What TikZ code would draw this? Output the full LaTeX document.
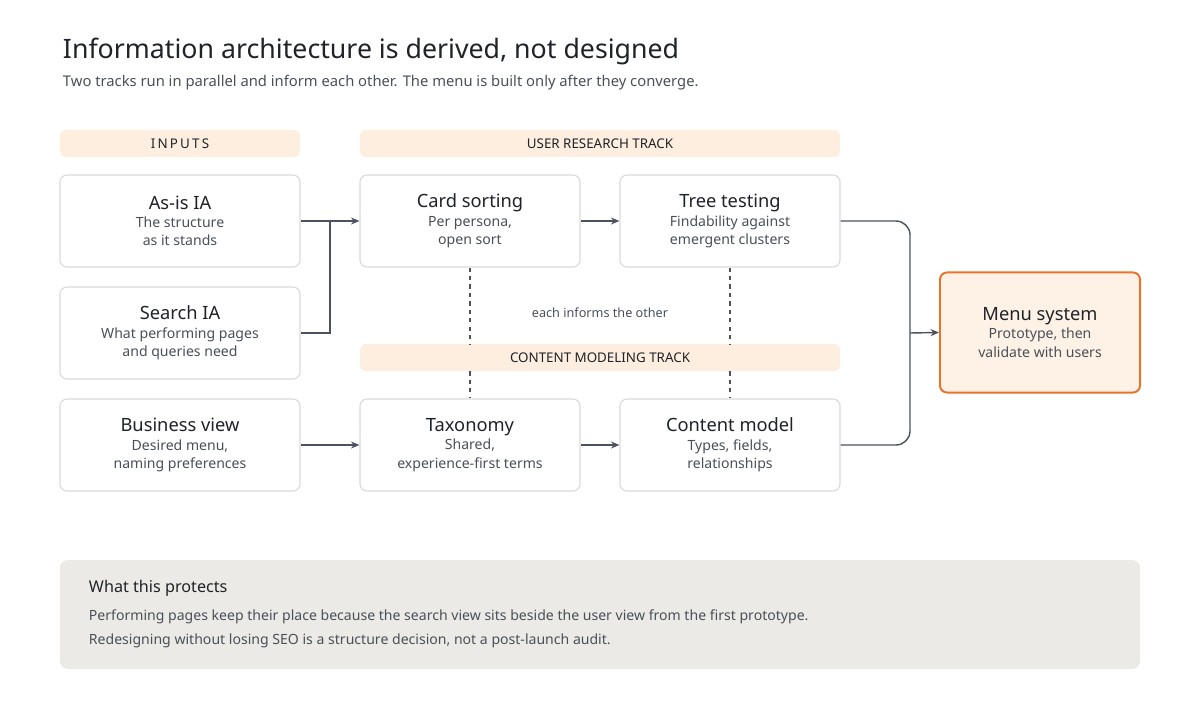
\documentclass[tikz,border=0pt]{standalone}
\usepackage{fontspec}
\setmainfont{Noto Sans}
\usetikzlibrary{positioning, arrows.meta}
\definecolor{ink}{HTML}{1F2328}
\definecolor{mute}{HTML}{4A5058}
\definecolor{edge}{HTML}{DADADA}
\definecolor{peach}{HTML}{FDEEDF}
\definecolor{orng}{HTML}{E8732A}
\definecolor{menufill}{HTML}{FEF1E5}
\definecolor{panel}{HTML}{ECEAE6}
\definecolor{wire}{HTML}{4A5260}

\begin{document}
\begin{tikzpicture}
    [
        x=0.025cm, y=-0.025cm,
        box/.style={draw=edge, line width=0.8pt, fill=white, rounded corners=5pt, minimum width=5.5cm, minimum height=2.3cm, align=center, text=mute, font=\fontsize{10}{13}\selectfont},
        wide_box/.style={box, minimum width=6cm},
        band/.style={fill=peach, rounded corners=4pt, minimum height=0.68cm, font=\fontsize{9.5}{11}\selectfont\bfseries, text=ink},
        flow/.style={-{Stealth[length=6pt, width=5pt]}, line width=1pt, color=wire},
        link/.style={line width=1pt, color=wire, dashed, dash pattern=on 3pt off 3pt},
    ]
        \useasboundingbox (0,0) rectangle (1200,720);
        % heading
        \node[anchor=west, font=\fontsize{19}{22}\selectfont\bfseries, text=ink] (title) at (58,51) {Information architecture is derived, not designed};
        \node[anchor=west, font=\fontsize{10.5}{13}\selectfont, text=mute] (sub) at (58,83) {Two tracks run in parallel and inform each other. The menu is built only after they converge.};
        % track labels
        \node[band, minimum width=6cm] (inputs) at (180,143.5) {I\,N\,P\,U\,T\,S};
        \node[band, minimum width=12cm] (research) at (600,143.5) {USER RESEARCH TRACK};
        \node[band, minimum width=12cm] (modeling) at (600,357.5) {CONTENT MODELING TRACK};
        % boxes
        \node[wide_box] (asis) at (180,221) {{\fontsize{13}{16}\selectfont\bfseries\color{ink}As-is IA}\\The structure\\as it stands};
        \node[wide_box] (search) at (180,333) {{\fontsize{13}{16}\selectfont\bfseries\color{ink}Search IA}\\What performing pages\\and queries need};
        \node[wide_box] (business) at (180,445) {{\fontsize{13}{16}\selectfont\bfseries\color{ink}Business view}\\Desired menu,\\naming preferences};
        \node[box] (cards) at (470,221) {{\fontsize{13}{16}\selectfont\bfseries\color{ink}Card sorting}\\Per persona,\\open sort};
        \node[box] (tree) at (730,221) {{\fontsize{13}{16}\selectfont\bfseries\color{ink}Tree testing}\\Findability against\\emergent clusters};
        \node[box] (taxonomy) at (470,445) {{\fontsize{13}{16}\selectfont\bfseries\color{ink}Taxonomy}\\Shared,\\experience-first terms};
        \node[box] (model) at (730,445) {{\fontsize{13}{16}\selectfont\bfseries\color{ink}Content model}\\Types, fields,\\relationships};
        \node[box, draw=orng, line width=1.4pt, fill=menufill, minimum width=5cm, minimum height=3cm] (menu) at (1040,332.5) {{\fontsize{13}{16}\selectfont\bfseries\color{ink}Menu system}\\Prototype, then\\validate with users};
        \node[font=\fontsize{9}{11}\selectfont, text=mute] (informs) at (600,313) {each informs the other};
        % flows
        \coordinate (join) at (330,221);
        \draw[line width=1pt, color=wire] (asis.east) -- (join);
        \draw[line width=1pt, color=wire] (search.east) -| (join);
        \draw[flow] (join) -- (cards.west);
        \draw[flow] (cards) -- (tree);
        \draw[flow] (business) -- (taxonomy);
        \draw[flow] (taxonomy) -- (model);
        \coordinate (merge) at (910,333);
        \draw[line width=1pt, color=wire, rounded corners=10pt] (tree.east) -| (merge);
        \draw[line width=1pt, color=wire, rounded corners=10pt] (model.east) -| (merge);
        \draw[flow] (merge) -- (menu.west);
        \draw[link] (cards.south) -- (cards.south |- modeling.north);
        \draw[link] (modeling.south -| cards) -- (taxonomy.north);
        \draw[link] (tree.south) -- (tree.south |- modeling.north);
        \draw[link] (modeling.south -| tree) -- (model.north);
        % note
        \node[fill=panel, rounded corners=6pt, minimum width=27cm, minimum height=2.73cm] (panel) at (600,614.5) {};
        \node[anchor=west, font=\fontsize{11.5}{14}\selectfont\bfseries, text=ink] (protects) at (84,588) {What this protects};
        \node[anchor=north west, align=left, font=\fontsize{10}{17}\selectfont, text=mute] (why) at (84,605) {Performing pages keep their place because the search view sits beside the user view from the first prototype.\\Redesigning without losing SEO is a structure decision, not a post-launch audit.};
    \end{tikzpicture}
\end{document}
